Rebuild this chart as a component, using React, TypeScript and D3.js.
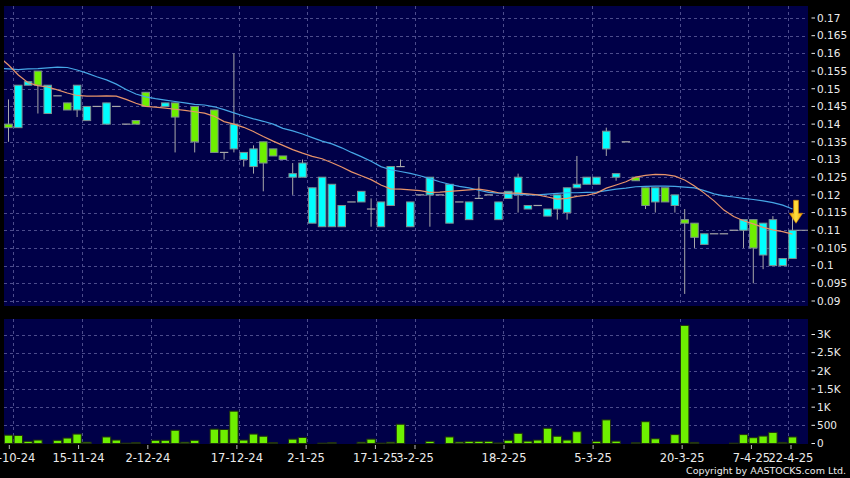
import React from 'react';
import * as d3 from 'd3';

// ---- data (index 0..80 = trading slots on the chart) ----
const opens: (number | null)[] = [
  0.140, 0.139, 0.151, 0.155, 0.143, 0.148, 0.146, 0.144, 0.141, 0.145,
  0.140, 0.145, 0.140, 0.141, 0.149, null, 0.145, 0.146, null, 0.145,
  null, 0.144, 0.132, 0.133, 0.130, 0.128, 0.135, 0.133, 0.131, 0.125,
  0.125, 0.112, 0.111, 0.111, 0.111, 0.118, 0.118, 0.116, 0.111, 0.117,
  0.128, 0.111, 0.120, 0.120, 0.120, 0.112, 0.118, 0.113, 0.119, 0.120,
  0.113, 0.119, 0.120, 0.116, 0.117, 0.114, 0.116, 0.115, 0.122, 0.123,
  0.123, 0.133, 0.125, 0.135, 0.125, 0.122, 0.118, 0.122, 0.117, 0.113,
  0.112, 0.106, 0.109, 0.109, 0.110, 0.110, 0.113, 0.103, 0.100, 0.100,
  0.102,
];
const highs: (number | null)[] = [
  0.147, 0.151, 0.152, 0.155, 0.151, 0.148, 0.146, 0.151, 0.145, 0.145,
  0.146, 0.145, 0.140, 0.141, 0.149, null, 0.146, 0.146, null, 0.145,
  null, 0.144, 0.132, 0.160, 0.132, 0.134, 0.135, 0.133, 0.131, 0.129,
  0.130, 0.122, 0.125, 0.123, 0.117, 0.118, 0.121, 0.119, 0.118, 0.128,
  0.130, 0.118, 0.120, 0.125, 0.120, 0.123, 0.118, 0.118, 0.125, 0.120,
  0.118, 0.121, 0.126, 0.117, 0.117, 0.116, 0.120, 0.122, 0.131, 0.125,
  0.125, 0.139, 0.126, 0.135, 0.125, 0.122, 0.122, 0.122, 0.120, 0.116,
  0.112, 0.109, 0.109, 0.109, 0.110, 0.113, 0.113, 0.112, 0.114, 0.102,
  0.115,
];
const lows: (number | null)[] = [
  0.135, 0.139, 0.151, 0.143, 0.143, 0.148, 0.144, 0.142, 0.141, 0.145,
  0.140, 0.145, 0.140, 0.140, 0.145, null, 0.145, 0.132, null, 0.132,
  null, 0.132, 0.130, 0.132, 0.128, 0.126, 0.121, 0.131, 0.130, 0.120,
  0.125, 0.112, 0.111, 0.111, 0.111, 0.118, 0.118, 0.111, 0.111, 0.117,
  0.128, 0.111, 0.120, 0.111, 0.120, 0.112, 0.118, 0.113, 0.119, 0.120,
  0.113, 0.119, 0.115, 0.116, 0.117, 0.114, 0.113, 0.113, 0.122, 0.123,
  0.123, 0.131, 0.124, 0.135, 0.124, 0.116, 0.115, 0.118, 0.115, 0.092,
  0.105, 0.106, 0.109, 0.109, 0.110, 0.105, 0.095, 0.099, 0.100, 0.100,
  0.102,
];
const closes: (number | null)[] = [
  0.139, 0.151, 0.152, 0.151, 0.151, 0.148, 0.144, 0.151, 0.145, 0.145,
  0.146, 0.145, 0.140, 0.140, 0.145, null, 0.146, 0.142, null, 0.135,
  null, 0.132, 0.132, 0.140, 0.132, 0.133, 0.129, 0.131, 0.130, 0.126,
  0.129, 0.122, 0.125, 0.123, 0.117, 0.118, 0.121, 0.116, 0.118, 0.128,
  0.128, 0.118, 0.120, 0.125, 0.120, 0.123, 0.118, 0.118, 0.119, 0.120,
  0.118, 0.121, 0.125, 0.117, 0.117, 0.116, 0.120, 0.122, 0.123, 0.125,
  0.125, 0.138, 0.126, 0.135, 0.124, 0.117, 0.122, 0.118, 0.120, 0.112,
  0.108, 0.109, 0.109, 0.109, 0.110, 0.113, 0.105, 0.112, 0.113, 0.102,
  0.110,
];
const volumes: number[] = [
  230, 220, 60, 95, 0, 88, 150, 260, 35, 0,
  180, 95, 10, 25, 0, 88, 88, 365, 35, 88,
  0, 395, 385, 890, 95, 260, 200, 25, 0, 120,
  165, 0, 10, 25, 0, 0, 35, 120, 10, 35,
  530, 0, 0, 60, 0, 180, 40, 60, 60, 60,
  15, 88, 280, 65, 95, 420, 200, 95, 325, 0,
  60, 650, 65, 0, 20, 600, 130, 0, 245, 3250,
  30, 0, 0, 0, 10, 245, 160, 205, 305, 30,
  180,
];
// moving averages, index -1 .. 80
const ma10: number[] = [
  0.1591,
  0.1567, 0.1539, 0.1517, 0.1509, 0.1505, 0.1497, 0.1488, 0.1481, 0.1479, 0.1479,
  0.1480, 0.1479, 0.1470, 0.1459, 0.1450, 0.1448, 0.1445, 0.1442, 0.1439, 0.1435,
  0.1431, 0.1422, 0.1407, 0.1400, 0.1391, 0.1379, 0.1365, 0.1352, 0.1340, 0.1328,
  0.1318, 0.1309, 0.1302, 0.1291, 0.1279, 0.1265, 0.1254, 0.1243, 0.1228, 0.1217,
  0.1216, 0.1214, 0.1212, 0.1207, 0.1208, 0.1210, 0.1212, 0.1214, 0.1216, 0.1212,
  0.1206, 0.1205, 0.1205, 0.1203, 0.1200, 0.1194, 0.1188, 0.1190, 0.1196, 0.1199,
  0.1205, 0.1219, 0.1228, 0.1237, 0.1250, 0.1255, 0.1258, 0.1257, 0.1253, 0.1242,
  0.1225, 0.1205, 0.1183, 0.1157, 0.1139, 0.1127, 0.1118, 0.1108, 0.1101, 0.1096,
  0.1089,
];
const ma20: number[] = [
  0.1558,
  0.1556, 0.1554, 0.1556, 0.1557, 0.1559, 0.1561, 0.1560, 0.1553, 0.1544, 0.1534,
  0.1525, 0.1513, 0.1498, 0.1485, 0.1477, 0.1472, 0.1468, 0.1464, 0.1460, 0.1456,
  0.1454, 0.1449, 0.1441, 0.1432, 0.1423, 0.1415, 0.1408, 0.1400, 0.1388, 0.1381,
  0.1372, 0.1362, 0.1352, 0.1344, 0.1333, 0.1320, 0.1308, 0.1295, 0.1280, 0.1271,
  0.1266, 0.1261, 0.1254, 0.1246, 0.1237, 0.1230, 0.1224, 0.1220, 0.1213, 0.1207,
  0.1205, 0.1203, 0.1202, 0.1200, 0.1200, 0.1202, 0.1204, 0.1206, 0.1206, 0.1207,
  0.1208, 0.1212, 0.1216, 0.1219, 0.1223, 0.1224, 0.1225, 0.1225, 0.1224, 0.1222,
  0.1220, 0.1212, 0.1203, 0.1197, 0.1194, 0.1190, 0.1187, 0.1183, 0.1178, 0.1171,
  0.1160,
];
const priceTicks = [0.09, 0.095, 0.1, 0.105, 0.11, 0.115, 0.12, 0.125, 0.13, 0.135, 0.14, 0.145, 0.15, 0.155, 0.16, 0.165, 0.17];
const volTicks = [0, 500, 1000, 1500, 2000, 2500, 3000];
const volTickLabels = ['0', '500', '1K', '1.5K', '2K', '2.5K', '3K'];
const dateTickIndex = [0, 7, 14, 23, 30, 37, 41, 50, 59, 68, 75, 79];
const dateTickLabels = ['31-10-24', '15-11-24', '2-12-24', '17-12-24', '2-1-25', '17-1-25', '3-2-25', '18-2-25', '5-3-25', '20-3-25', '7-4-25', '22-4-25'];

// ---- styling ----
const W = 850, H = 478;
const PANEL = { x0: 4, x1: 808 };
const MAIN = { y0: 6, y1: 306 };
const VOL = { y0: 319, y1: 444 };
const BG = '#000000';
const PANEL_BG = '#000048';
const GRID = '#4c4c8c';
const TEXT = '#ececec';
const CYAN = '#00ffff';
const GREEN = '#6ef000';
const EDGE = '#7f8f8f';
const WICK = '#a8a8a8';
const ORANGE = '#e8946a';
const BLUE = '#46a6e6';
const FONT = 'DejaVu Sans, Verdana, sans-serif';

export default function App() {
  const n = opens.length;
  const x = d3.scaleLinear().domain([0, n - 1]).range([8.5, 792.5]);
  const xTick = d3.scaleLinear().domain([0, n - 2]).range([9.3, 791]);
  const yP = d3.scaleLinear().domain([0.09, 0.17]).range([301, 18]);
  const yV = d3.scaleLinear().domain([0, 3000]).range([443.5, 334.5]);
  const bodyW = 7.5;
  const barW = 8.4;

  const lineGen = d3
    .line<number>()
    .x((_, i) => x(i - 1))
    .y((d) => yP(d));

  const last = n - 1;
  const lastX = x(last);
  const lastY = yP(closes[last] as number);
  const ax = lastX + 3.5;
  const tip = lastY - 7;

  return (
    <svg width={W} height={H} style={{ position: 'absolute', left: 0, top: 0, background: BG }} fontFamily={FONT}>
      <defs>
        <clipPath id="mainClip">
          <rect x={PANEL.x0} y={MAIN.y0} width={PANEL.x1 - PANEL.x0} height={MAIN.y1 - MAIN.y0} />
        </clipPath>
        <clipPath id="volClip">
          <rect x={PANEL.x0} y={VOL.y0} width={PANEL.x1 - PANEL.x0} height={VOL.y1 - VOL.y0} />
        </clipPath>
        <linearGradient id="arrowGrad" x1="0" x2="1" y1="0" y2="0">
          <stop offset="0" stopColor="#f0a000" />
          <stop offset="0.5" stopColor="#ffe040" />
          <stop offset="1" stopColor="#f0a000" />
        </linearGradient>
      </defs>
      <rect x={0} y={0} width={W} height={H} fill={BG} />
      <rect x={PANEL.x0} y={MAIN.y0} width={PANEL.x1 - PANEL.x0} height={MAIN.y1 - MAIN.y0} fill={PANEL_BG} />
      <rect x={PANEL.x0} y={VOL.y0} width={PANEL.x1 - PANEL.x0} height={VOL.y1 - VOL.y0} fill={PANEL_BG} />

      {/* grids */}
      <g stroke={GRID} strokeWidth={1} strokeDasharray="3,3" shapeRendering="crispEdges">
        {priceTicks.map((t) => (
          <line key={'pg' + t} x1={PANEL.x0} x2={PANEL.x1} y1={Math.round(yP(t)) + 0.5} y2={Math.round(yP(t)) + 0.5} />
        ))}
        {volTicks.slice(1).map((t) => (
          <line key={'vg' + t} x1={PANEL.x0} x2={PANEL.x1} y1={Math.round(yV(t)) + 0.5} y2={Math.round(yV(t)) + 0.5} />
        ))}
        {dateTickIndex.map((i) => (
          <g key={'xg' + i}>
            <line x1={Math.round(x(i + 0.5)) + 0.5} x2={Math.round(x(i + 0.5)) + 0.5} y1={MAIN.y0} y2={MAIN.y1} />
            <line x1={Math.round(x(i + 0.5)) + 0.5} x2={Math.round(x(i + 0.5)) + 0.5} y1={VOL.y0} y2={VOL.y1} />
          </g>
        ))}
      </g>

      {/* candles */}
      <g clipPath="url(#mainClip)">
        {opens.map((o, i) => {
          const c = closes[i];
          const h = highs[i];
          const l = lows[i];
          if (o == null || c == null || h == null || l == null) return null;
          const cx = x(i);
          const top = Math.max(o, c);
          const bot = Math.min(o, c);
          const flat = o === c;
          return (
            <g key={'c' + i}>
              {h !== l && <line x1={cx} x2={cx} y1={yP(h)} y2={yP(l)} stroke={WICK} strokeWidth={1} />}
              {flat ? (
                <line x1={cx - 4.2} x2={cx + 4.2} y1={yP(o)} y2={yP(o)} stroke={WICK} strokeWidth={1.2} />
              ) : (
                <rect
                  x={cx - bodyW / 2}
                  y={yP(top)}
                  width={bodyW}
                  height={yP(bot) - yP(top)}
                  fill={c > o ? CYAN : GREEN}
                  stroke={EDGE}
                  strokeWidth={1}
                />
              )}
            </g>
          );
        })}
        {/* last close marker */}
        <line x1={lastX + 4} x2={PANEL.x1} y1={lastY} y2={lastY} stroke={WICK} strokeWidth={1} />
        <path d={lineGen(ma20) || ''} fill="none" stroke={BLUE} strokeWidth={1.2} />
        <path d={lineGen(ma10) || ''} fill="none" stroke={ORANGE} strokeWidth={1.2} />
        {/* arrow */}
        <path
          d={`M${ax - 2.5},${tip - 23} L${ax + 2.5},${tip - 23} L${ax + 2.5},${tip - 10} L${ax + 6.7},${tip - 10} L${ax},${tip} L${ax - 6.7},${tip - 10} L${ax - 2.5},${tip - 10} Z`}
          fill="url(#arrowGrad)"
          stroke="#d08000"
          strokeWidth={0.6}
        />
      </g>

      {/* volume */}
      <g clipPath="url(#volClip)">
        {volumes.map((v, i) =>
          v > 0 ? (
            <rect
              key={'v' + i}
              x={x(i) - barW / 2}
              y={yV(v)}
              width={barW}
              height={yV(0) - yV(v)}
              fill={GREEN}
              stroke="#203010"
              strokeWidth={1}
            />
          ) : null
        )}
      </g>

      {/* right axes */}
      <g fill={TEXT} fontSize={10.5}>
        {priceTicks.map((t) => (
          <g key={'pl' + t}>
            <line x1={811.5} x2={815} y1={yP(t)} y2={yP(t)} stroke={TEXT} strokeWidth={1} />
            <text x={817} y={yP(t) + 3.8}>{String(t)}</text>
          </g>
        ))}
        {volTicks.map((t, k) => (
          <g key={'vl' + t}>
            <line x1={811.5} x2={815} y1={yV(t)} y2={yV(t)} stroke={TEXT} strokeWidth={1} />
            <text x={817} y={yV(t) + 3.8}>{volTickLabels[k]}</text>
          </g>
        ))}
      </g>

      {/* date axis */}
      <g fill={TEXT} fontSize={11.5}>
        {dateTickIndex.map((i, k) => (
          <g key={'dl' + i}>
            <line x1={xTick(i)} x2={xTick(i)} y1={445} y2={449} stroke="#bbbbbb" strokeWidth={1} />
            <text x={xTick(i)} y={461.5} textAnchor="middle">{dateTickLabels[k]}</text>
          </g>
        ))}
      </g>

      <text x={846} y={473.5} fill={TEXT} fontSize={9.5} textAnchor="end">Copyright by AASTOCKS.com Ltd.</text>
    </svg>
  );
}
